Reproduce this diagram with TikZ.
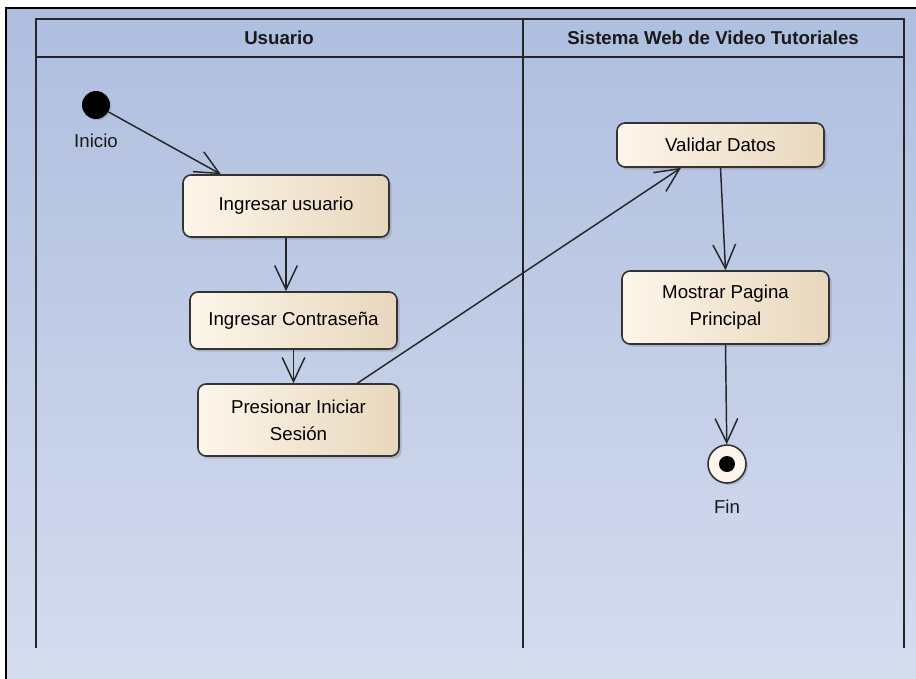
\documentclass[tikz,border=0pt]{standalone}
\usepackage{fontspec}
\setmainfont{Liberation Sans}
\usetikzlibrary{arrows.meta,shadows}
\definecolor{lanetop}{RGB}{174,190,223}
\definecolor{lanebot}{RGB}{214,221,239}
\definecolor{actleft}{RGB}{253,246,234}
\definecolor{actright}{RGB}{232,215,189}
\tikzset{
	actividad/.style={draw=black!80,line width=1.2pt,rounded corners=6pt,left color=actleft,right color=actright,
		drop shadow={shadow xshift=2pt,shadow yshift=-2pt,opacity=0.35},align=center,inner sep=0pt,
		font=\fontsize{14}{20}\selectfont},
	flujo/.style={line width=1.1pt,black!85,-{Straight Barb[length=18pt,width=17pt,line width=1.1pt]}},
	carril/.style={line width=1.5pt,black!85},
	etiqueta/.style={font=\fontsize{14}{17}\selectfont,text=black!90},
}
\begin{document}
\begin{tikzpicture}[x=0.75pt,y=-0.75pt]
	\useasboundingbox (0,0) rectangle (916,678);
	% fondo y carriles
	\draw[line width=1.5pt,top color=lanetop,bottom color=lanebot] (6,8) rectangle (940,700);
	\draw[carril] (36,648) -- (36,19) -- (904,19) -- (904,648);
	\draw[carril] (36,57) -- (904,57);
	\draw[carril] (523,19) -- (523,648);
	\node[etiqueta,font=\fontsize{14}{17}\selectfont\bfseries] (usuario) at (279,38) {Usuario};
	\node[etiqueta,font=\fontsize{14}{17}\selectfont\bfseries] (sistema) at (713,38) {Sistema Web de Video Tutoriales};
	% inicio
	\node[circle,fill=black,minimum size=21pt,inner sep=0pt,drop shadow={shadow xshift=1pt,shadow yshift=-1pt,opacity=0.3}] (inicio) at (96,105) {};
	\node[etiqueta] (txtinicio) at (96,141) {Inicio};
	% actividades
	\node[actividad,minimum width=154.5pt,minimum height=46.5pt] (iu) at (286,206) {Ingresar usuario};
	\node[actividad,minimum width=155.25pt,minimum height=42.75pt] (ic) at (293.5,320.5) {Ingresar Contraseña};
	\node[actividad,minimum width=150.75pt,minimum height=54pt] (pis) at (298.5,420) {Presionar Iniciar\\Sesión};
	\node[actividad,minimum width=155.25pt,minimum height=33pt] (vd) at (720.5,145) {Validar Datos};
	\node[actividad,minimum width=155.25pt,minimum height=54.75pt] (mpp) at (725.5,307.5) {Mostrar Pagina\\Principal};
	% fin
	\node[circle,draw=black!80,line width=1.2pt,fill=actleft,minimum size=28.5pt,inner sep=0pt,
		drop shadow={shadow xshift=1.5pt,shadow yshift=-1.5pt,opacity=0.3}] (fin) at (727,464) {};
	\fill (fin.center) circle (6pt);
	\node[etiqueta] (txtfin) at (727,507) {Fin};
	% flujos
	\draw[flujo] (inicio) -- (iu.154);
	\draw[flujo] (iu.south) -- (iu.south |- ic.north);
	\draw[flujo] (ic.south) -- (ic.south |- pis.north);
	\draw[flujo] (pis.32.5) -- (vd.210);
	\draw[flujo] (vd.south) -- (mpp.north);
	\draw[flujo] (mpp.south) -- (fin);
\end{tikzpicture}
\end{document}
